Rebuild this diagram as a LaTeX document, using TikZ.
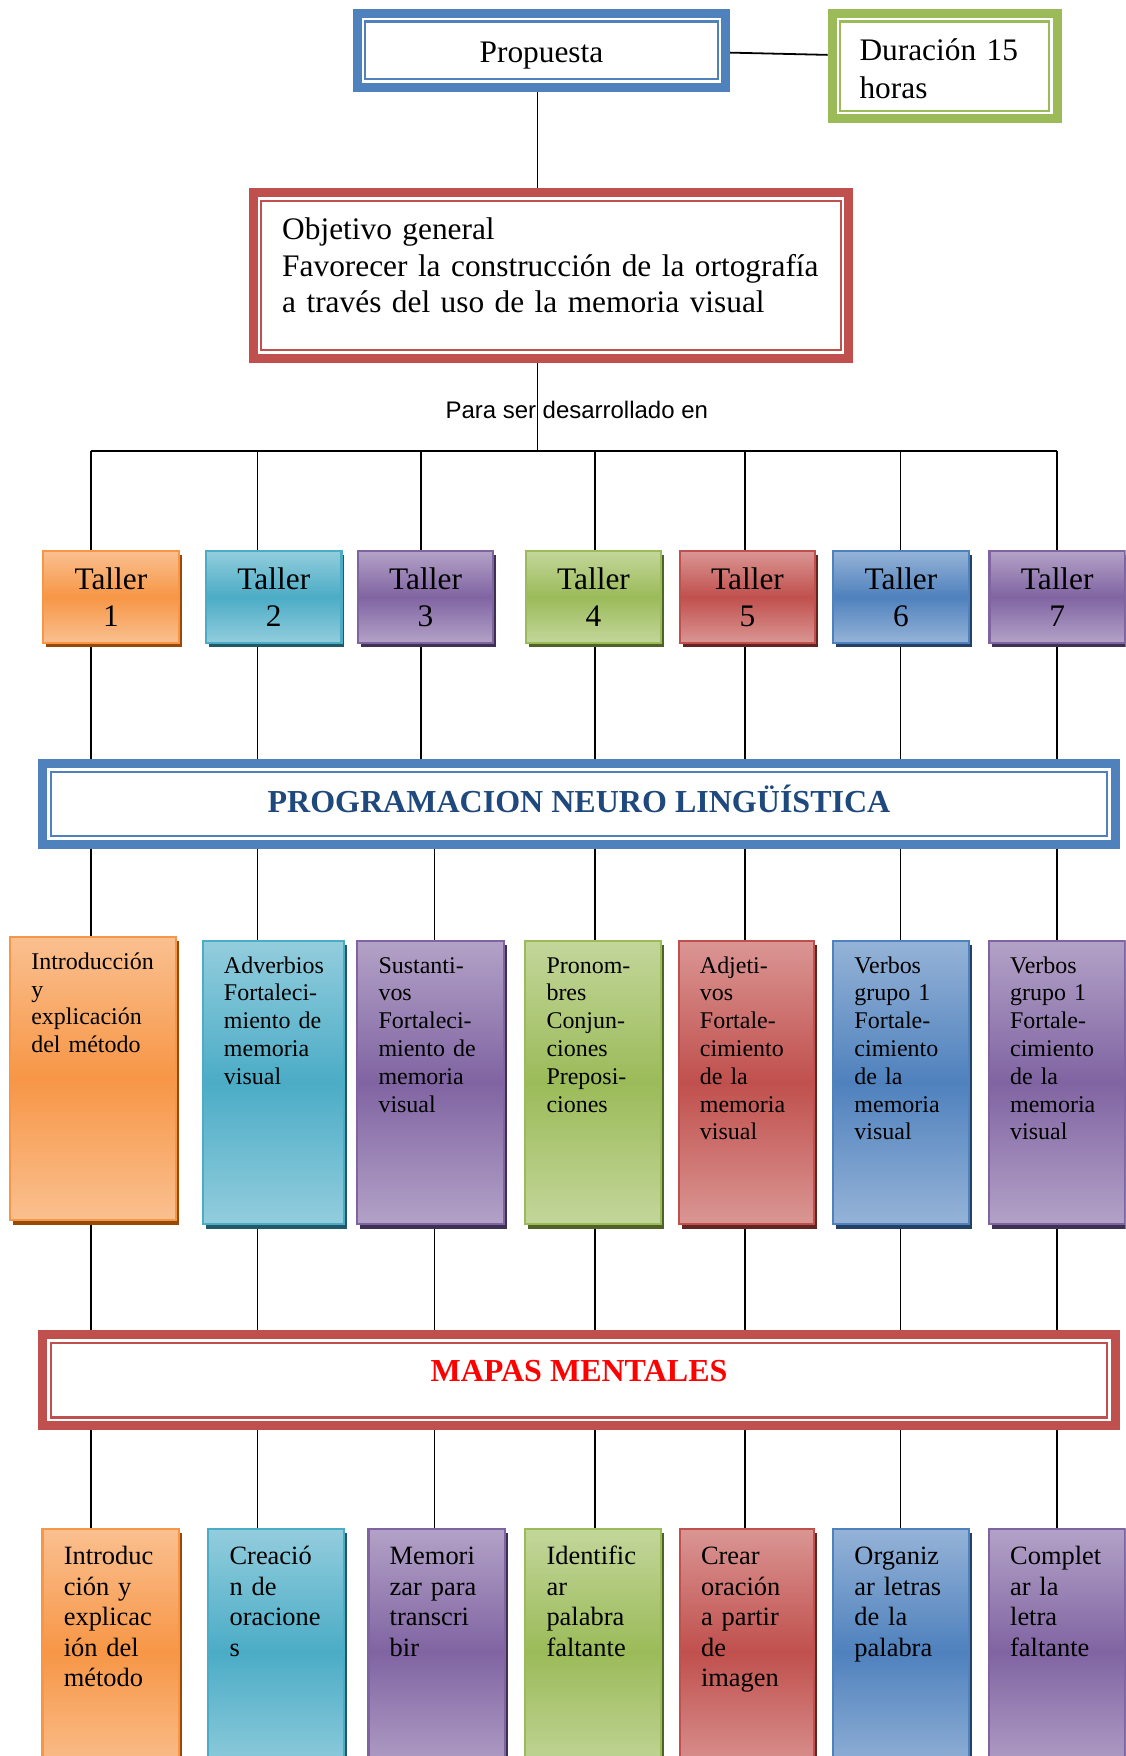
\documentclass[tikz,border=0pt]{standalone}
\usepackage{fontspec}
\setmainfont{Liberation Serif}
\newfontfamily\arial{Liberation Sans}
\usetikzlibrary{shadows,backgrounds}

% colores de las cajas
\definecolor{naranja}{HTML}{F79646}
\definecolor{naranjaclaro}{HTML}{FAC090}
\definecolor{naranjaoscuro}{HTML}{984807}
\definecolor{aqua}{HTML}{4BACC6}
\definecolor{aquaclaro}{HTML}{93CDDD}
\definecolor{aquaoscuro}{HTML}{215968}
\definecolor{morado}{HTML}{8064A2}
\definecolor{moradoclaro}{HTML}{B3A2C7}
\definecolor{moradooscuro}{HTML}{3F3151}
\definecolor{verde}{HTML}{9BBB59}
\definecolor{verdeclaro}{HTML}{C3D69B}
\definecolor{verdeoscuro}{HTML}{4F6228}
\definecolor{rojo}{HTML}{C0504D}
\definecolor{rojoclaro}{HTML}{DA9694}
\definecolor{rojooscuro}{HTML}{632523}
\definecolor{azul}{HTML}{4F81BD}
\definecolor{azulclaro}{HTML}{95B3D7}
\definecolor{azuloscuro}{HTML}{244062}
\definecolor{titulo}{HTML}{1F497D}

\hyphenpenalty=10000
\exhyphenpenalty=10000

\tikzset{
  linea/.style={line width=0.8pt},
  marco/.style={draw=#1, line width=4pt, fill=white,
    path picture={\draw[#1, line width=1pt]
      ([shift={(3.6pt,-3.6pt)}]path picture bounding box.north west) rectangle
      ([shift={(-3.6pt,3.6pt)}]path picture bounding box.south east);}},
  caja/.style={draw=#1, line width=1pt, top color=#1claro, bottom color=#1claro, middle color=#1,
    drop shadow={shadow xshift=1.3pt, shadow yshift=-2pt, fill=#1oscuro, opacity=1}},
  taller/.style={caja=#1, minimum width=60.5pt, minimum height=41pt, align=center,
    font=\fontsize{14}{16.5}\selectfont},
  tema/.style 2 args={caja=#1, minimum width=#2, text width=#2-19pt, align=left,
    inner ysep=7.5pt, text height=7pt, text depth=104.5pt,
    font=\fontsize{10.7}{12.4}\selectfont},
  actividad/.style 2 args={caja=#1, minimum width=#2, text width=#2-19pt, align=left,
    inner ysep=8pt, text height=8pt, text depth=86pt,
    font=\fontsize{11.8}{13.65}\selectfont},
}

\begin{document}
\begin{tikzpicture}[x=0.5pt, y=-0.5pt]
  \path[use as bounding box] (0,0) rectangle (1005,1568);
  \clip (0,0) rectangle (1005,1568);

  % cabecera
  \node[marco=azul, minimum width=164.5pt, minimum height=33pt, text height=11.5pt, text depth=1pt,
    font=\fontsize{14}{16.5}\selectfont] (prop) at (483.5,45) {Propuesta};
  \node[marco=verde, minimum width=100.5pt, minimum height=47pt, text width=76pt, align=left,
    text height=9pt, text depth=14pt, font=\fontsize{14}{17}\selectfont] (dur) at (843.5,59)
    {Duración 15\\horas};
  \node[marco=rojo, minimum width=266pt, minimum height=74pt, text width=240pt, align=left,
    text height=9.5pt, text depth=41.5pt, font=\fontsize{14}{16.25}\selectfont] (obj) at (492,246)
    {Objetivo general\\Favorecer la construcción de la ortografía\\a través del uso de la memoria visual};
  \node[font=\arial\fontsize{10.7}{12}\selectfont] (para) at (515,366) {Para ser desarrollado en};

  % columnas
  \coordinate (c0) at (480,403);
  \coordinate (c1) at (81,403);
  \coordinate (c2) at (230,403);
  \coordinate (c3) at (376,403);
  \coordinate (c3b) at (388,403);
  \coordinate (c4) at (531,403);
  \coordinate (c5) at (665,403);
  \coordinate (c6) at (804,403);
  \coordinate (c7) at (944,403);

  % talleres
  \node[taller=naranja] (taller1) at (99,533) {Taller\\1};
  \node[taller=aqua] (taller2) at (244.5,533) {Taller\\2};
  \node[taller=morado] (taller3) at (380,533) {Taller\\3};
  \node[taller=verde] (taller4) at (530,533) {Taller\\4};
  \node[taller=rojo] (taller5) at (667.5,533) {Taller\\5};
  \node[taller=azul] (taller6) at (804.5,533) {Taller\\6};
  \node[taller=morado] (taller7) at (944,533) {Taller\\7};

  \node[marco=azul, minimum width=479pt, minimum height=36pt, text height=9.5pt, text depth=2pt,
    font=\bfseries\fontsize{14.3}{16}\selectfont, text=titulo] (pnl) at (517,718)
    {PROGRAMACION NEURO LINGÜÍSTICA};

  % temas
  \node[tema={naranja}{74pt}] (tema1) at (83,963) {Introducción\\y\\explicación\\del método};
  \node[tema={aqua}{63pt}] (tema2) at (244,966.5) {Adverbios\\Fortaleci-\\miento de\\memoria\\visual};
  \node[tema={morado}{65.5pt}] (tema3) at (384.5,966.5) {Sustanti-\\vos\\Fortaleci-\\miento de\\memoria\\visual};
  \node[tema={verde}{60.5pt}] (tema4) at (529.5,966.5) {Pronom-\\bres\\Conjun-\\ciones\\Preposi-\\ciones};
  \node[tema={rojo}{60.5pt}] (tema5) at (666.5,966.5) {Adjeti-\\vos\\Fortale-\\cimiento\\de la\\memoria\\visual};
  \node[tema={azul}{60.5pt}] (tema6) at (804.5,966.5) {Verbos\\grupo 1\\Fortale-\\cimiento\\de la\\memoria\\visual};
  \node[tema={morado}{61pt}] (tema7) at (944,966.5) {Verbos\\grupo 1\\Fortale-\\cimiento\\de la\\memoria\\visual};

  \node[marco=rojo, minimum width=479pt, minimum height=40.5pt, text height=9.3pt, text depth=8.5pt,
    font=\bfseries\fontsize{14.3}{16}\selectfont, text=red] (mm) at (517,1232.5) {MAPAS MENTALES};

  % actividades
  \node[actividad={naranja}{61pt}] (act1) at (99,1475) {Introduc\\ción y\\explicac\\ión del\\método};
  \node[actividad={aqua}{60.5pt}] (act2) at (246.5,1475) {Creació\\n de\\oracione\\s};
  \node[actividad={morado}{61pt}] (act3) at (390,1475) {Memori\\zar para\\transcri\\bir};
  \node[actividad={verde}{60.5pt}] (act4) at (529.5,1475) {Identific\\ar\\palabra\\faltante};
  \node[actividad={rojo}{60pt}] (act5) at (667,1475) {Crear\\oración\\a partir\\de\\imagen};
  \node[actividad={azul}{60.5pt}] (act6) at (804.5,1475) {Organiz\\ar letras\\de la\\palabra};
  \node[actividad={morado}{61pt}] (act7) at (944,1475) {Complet\\ar la\\letra\\faltante};

  % conectores
  \begin{scope}[on background layer]
    \draw[linea] (prop.south -| c0) -- (obj.north -| c0) (obj.south -| c0) -- (c0);
    \draw[linea] ([yshift=-1pt]prop.east) -- ([yshift=5pt]dur.west);
    \draw[linea] (c1) -- (c7);
    \draw[linea] (c1) -- (c1 |- taller1.north) (c2) -- (c2 |- taller2.north)
      (c3) -- (c3 |- taller3.north) (c4) -- (c4 |- taller4.north)
      (c5) -- (c5 |- taller5.north) (c6) -- (c6 |- taller6.north)
      (c7) -- (c7 |- taller7.north);
    \draw[linea] (c1 |- taller1.south) -- (c1 |- pnl.north) (c2 |- taller2.south) -- (c2 |- pnl.north)
      (c3 |- taller3.south) -- (c3 |- pnl.north) (c4 |- taller4.south) -- (c4 |- pnl.north)
      (c5 |- taller5.south) -- (c5 |- pnl.north) (c6 |- taller6.south) -- (c6 |- pnl.north)
      (c7 |- taller7.south) -- (c7 |- pnl.north);
    \draw[linea] (c1 |- pnl.south) -- (c1 |- tema1.north) (c2 |- pnl.south) -- (c2 |- tema2.north)
      (c3b |- pnl.south) -- (c3b |- tema3.north) (c4 |- pnl.south) -- (c4 |- tema4.north)
      (c5 |- pnl.south) -- (c5 |- tema5.north) (c6 |- pnl.south) -- (c6 |- tema6.north)
      (c7 |- pnl.south) -- (c7 |- tema7.north);
    \draw[linea] (c1 |- tema1.south) -- (c1 |- mm.north) (c2 |- tema2.south) -- (c2 |- mm.north)
      (c3b |- tema3.south) -- (c3b |- mm.north) (c4 |- tema4.south) -- (c4 |- mm.north)
      (c5 |- tema5.south) -- (c5 |- mm.north) (c6 |- tema6.south) -- (c6 |- mm.north)
      (c7 |- tema7.south) -- (c7 |- mm.north);
    \draw[linea] (c1 |- mm.south) -- (c1 |- act1.north) (c2 |- mm.south) -- (c2 |- act2.north)
      (c3b |- mm.south) -- (c3b |- act3.north) (c4 |- mm.south) -- (c4 |- act4.north)
      (c5 |- mm.south) -- (c5 |- act5.north) (c6 |- mm.south) -- (c6 |- act6.north)
      (c7 |- mm.south) -- (c7 |- act7.north);
  \end{scope}
\end{tikzpicture}
\end{document}
